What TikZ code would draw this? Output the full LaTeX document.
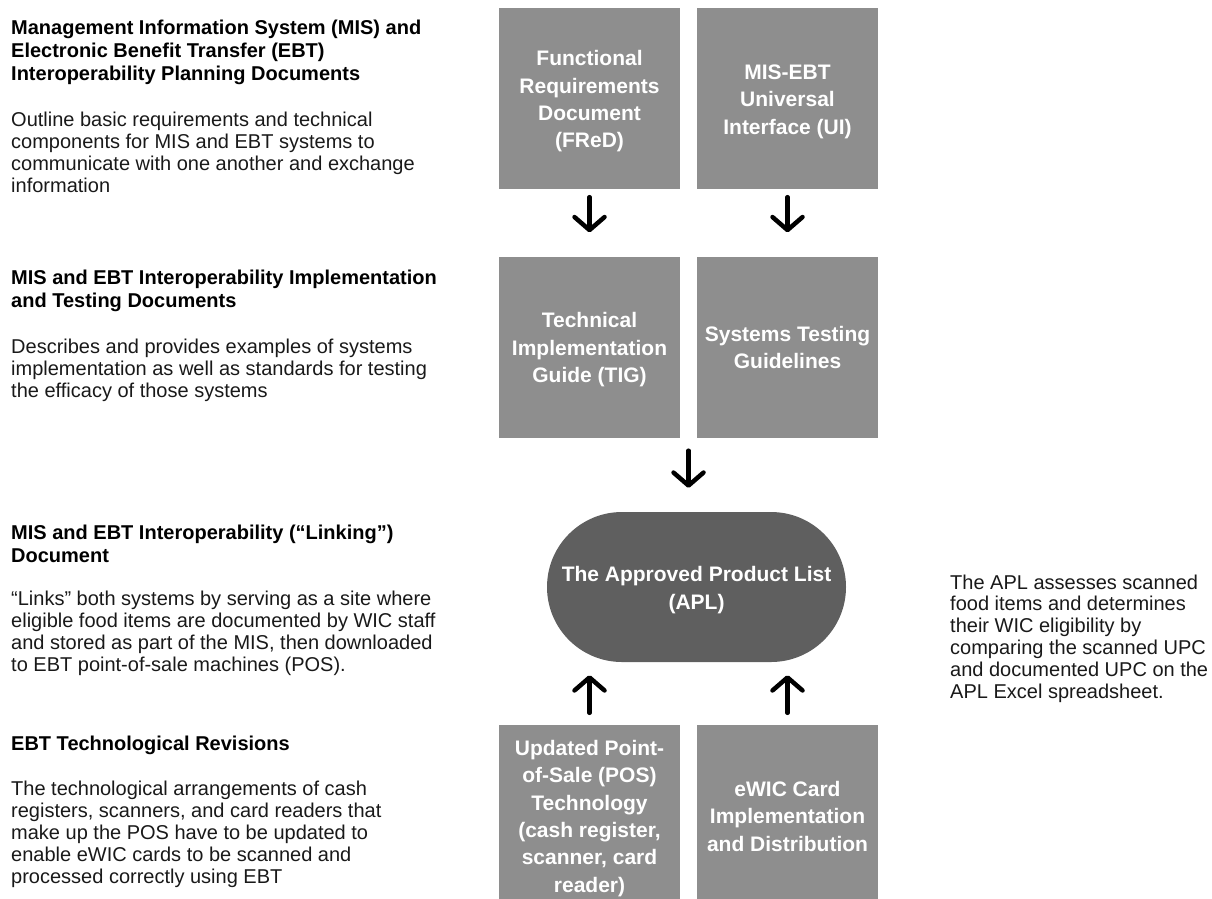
\documentclass[tikz,border=0pt]{standalone}
\usepackage{fontspec}
\setmainfont{Liberation Sans}
\usetikzlibrary{arrows.meta,calc}
\definecolor{boxgray}{RGB}{142,142,142}
\definecolor{pillgray}{RGB}{95,95,95}
\definecolor{txt}{RGB}{25,25,25}
\newcommand\toplines[1]{\begin{tabular}[t]{@{}l@{}}#1\end{tabular}}
\newcommand\boxtxt[1]{\raisebox{-8pt}[0pt][0pt]{\begin{tabular}{@{}c@{}}#1\end{tabular}}}
\tikzset{
  box/.style={fill=boxgray, minimum width=181pt, minimum height=181pt, inner sep=0pt,
    text=white, font=\fontsize{21}{27.3}\selectfont\bfseries},
  pill/.style={fill=pillgray, minimum width=299pt, minimum height=150pt, inner sep=0pt,
    rounded corners=75pt, text=white, font=\fontsize{21}{28.5}\selectfont\bfseries},
  arr/.style={line width=4.5pt, line cap=round, -{Straight Barb[length=13pt,width=30pt,round]}},
  ttl/.style={anchor=base west, inner sep=0pt, text=black,
    font=\fontsize{20}{23}\selectfont\bfseries},
  bdy/.style={anchor=base west, inner sep=0pt, text=txt,
    font=\fontsize{20}{22.2}\selectfont},
}
\begin{document}
\begin{tikzpicture}[x=1pt,y=-1pt]
\useasboundingbox (0,0) rectangle (1212,898);
\clip (0,0) rectangle (1212,898);
% left texts
\node[ttl] (t1) at (11,34) {\toplines{Management Information System (MIS) and\\Electronic Benefit Transfer (EBT)\\Interoperability Planning Documents}};
\node[bdy] (d1) at (11,126) {\toplines{Outline basic requirements and technical\\components for MIS and EBT systems to\\communicate with one another and exchange\\information}};
\node[ttl] (t2) at (11,284) {\toplines{MIS and EBT Interoperability Implementation\\and Testing Documents}};
\node[bdy] (d2) at (11,353) {\toplines{Describes and provides examples of systems\\implementation as well as standards for testing\\the efficacy of those systems}};
\node[ttl] (t3) at (11,539) {\toplines{MIS and EBT Interoperability (“Linking”)\\Document}};
\node[bdy] (d3) at (11,605) {\toplines{“Links” both systems by serving as a site where\\eligible food items are documented by WIC staff\\and stored as part of the MIS, then downloaded\\to EBT point-of-sale machines (POS).}};
\node[ttl] (t4) at (11,750) {\toplines{EBT Technological Revisions}};
\node[bdy] (d4) at (11,795) {\toplines{The technological arrangements of cash\\registers, scanners, and card readers that\\make up the POS have to be updated to\\enable eWIC cards to be scanned and\\processed correctly using EBT}};
% right text
\node[bdy, font=\fontsize{20}{21.8}\selectfont] (r1) at (950,589) {\toplines{The APL assesses scanned\\food items and determines\\their WIC eligibility by\\comparing the scanned UPC\\and documented UPC on the\\APL Excel spreadsheet.}};
% boxes
\node[box] (b1) at (589.5,98.5) {\boxtxt{Functional\\Requirements\\Document\\(FReD)}};
\node[box] (b2) at (787.5,98.5) {\boxtxt{MIS-EBT\\Universal\\Interface (UI)}};
\node[box] (b3) at (589.5,347) {\boxtxt{Technical\\Implementation\\Guide (TIG)}};
\node[box] (b4) at (787.5,347) {\boxtxt{Systems Testing\\Guidelines}};
\node[pill] (apl) at (696.5,587) {\boxtxt{The Approved Product List\\(APL)}};
\node[box] (b5) at (589.5,815.5) {\boxtxt{Updated Point-\\of-Sale (POS)\\Technology\\(cash register,\\scanner, card\\reader)}};
\node[box] (b6) at (787.5,815.5) {\boxtxt{eWIC Card\\Implementation\\and Distribution}};
% arrows
\draw[arr, shorten <=8pt, shorten >=24pt] (b1) -- (b3);
\draw[arr, shorten <=8pt, shorten >=24pt] (b2) -- (b4);
\coordinate (m1) at ($(b3.south east)!0.5!(b4.south west)$);
\coordinate (m2) at (m1 |- apl.north);
\draw[arr, shorten <=13pt, shorten >=24pt] (m1) -- (m2);
\draw[arr, shorten <=12pt, shorten >=13pt] (b5) -- (b5 |- apl.south);
\draw[arr, shorten <=12pt, shorten >=13pt] (b6) -- (b6 |- apl.south);
\end{tikzpicture}
\end{document}
